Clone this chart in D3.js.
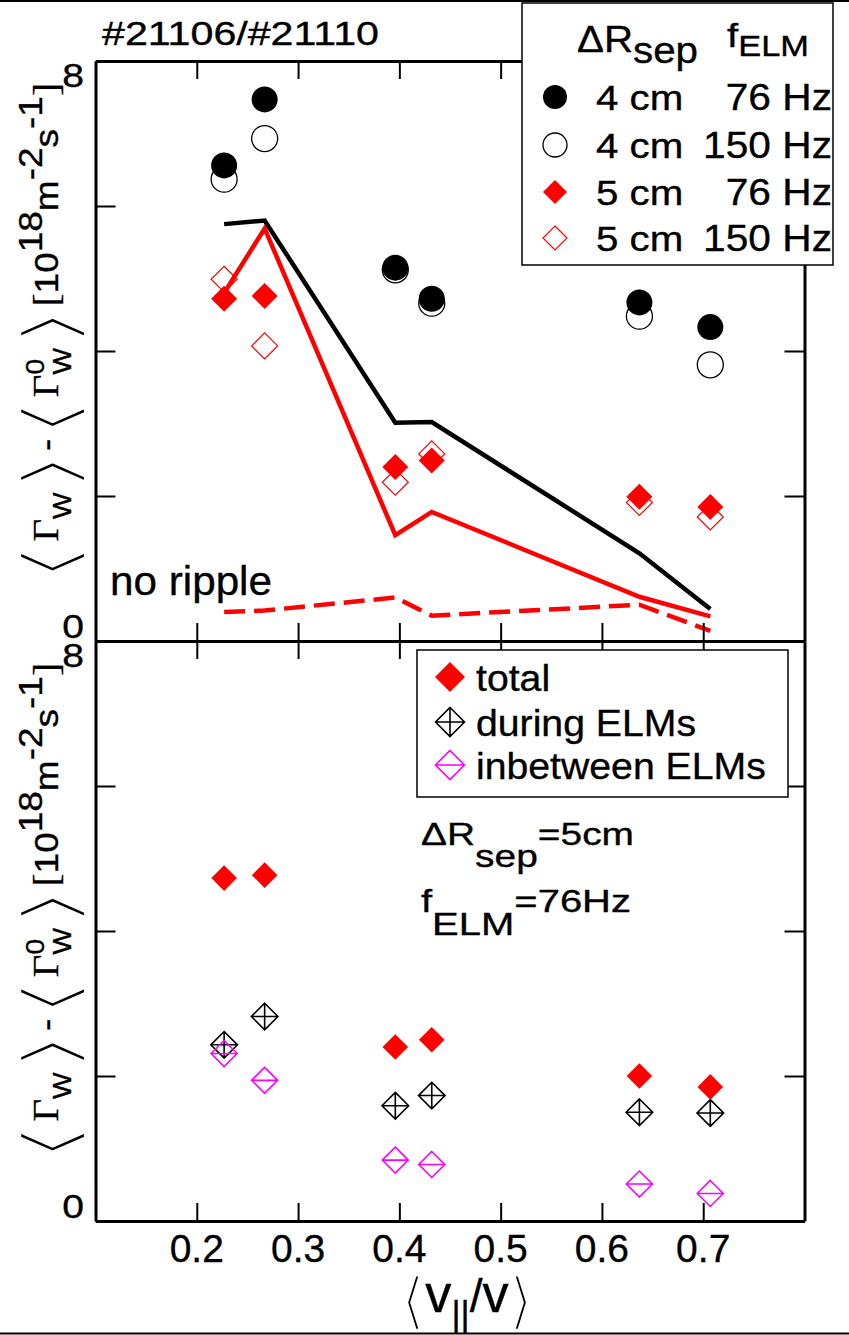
<!DOCTYPE html>
<html>
<head>
<meta charset="utf-8">
<script src="https://cdn.jsdelivr.net/npm/d3@7"></script>
<style>
  html, body { margin: 0; padding: 0; background: #fff; }
  svg { display: block; }
</style>
</head>
<body>
<svg id="fig" width="849" height="1335"></svg>
<script>
// abscissa: <v_par / v>
const vPar = [0.227, 0.267, 0.396, 0.432, 0.637, 0.707];

// upper panel: measured <Gamma_W> - <Gamma_W^0>  [1e18 m^-2 s^-1]
const dR4cm76Hz  = [6.56, 7.47, 5.15, 4.72, 4.67, 4.33];
const dR4cm150Hz = [6.37, 6.93, 5.12, 4.66, 4.48, 3.81];
const dR5cm76Hz  = [4.72, 4.76, 2.40, 2.49, 1.99, 1.85];
const dR5cm150Hz = [4.99, 4.07, 2.19, 2.58, 1.91, 1.71];

// upper panel: modelled curves
const model4cm      = [5.75, 5.80, 3.01, 3.02, 1.21, 0.44];
const model5cm      = [4.80, 5.69, 1.46, 1.78, 0.61, 0.34];
const modelNoRipple = [0.40, 0.42, 0.60, 0.35, 0.50, 0.14];

// lower panel: dR_sep = 5 cm, f_ELM = 76 Hz, split by ELM phase
const totalFlux   = [4.73, 4.77, 2.40, 2.50, 2.00, 1.85];
const duringELMs  = [2.43, 2.82, 1.59, 1.73, 1.50, 1.49];
const betweenELMs = [2.31, 1.94, 0.84, 0.78, 0.51, 0.38];

// ticks and labels
const xTicks = [0.2, 0.3, 0.4, 0.5, 0.6, 0.7];
const yTicks = [0, 2, 4, 6, 8];
const yTickLabels = [0, 8];
const sepLabels = ["4 cm", "4 cm", "5 cm", "5 cm"];
const elmLabels = ["76 Hz", "150 Hz", "76 Hz", "150 Hz"];
const phaseLabels = ["total", "during ELMs", "inbetween ELMs"];

const FONT = "'Liberation Sans', Arial, Helvetica, sans-serif";
const SERIF = "'Liberation Serif', 'Times New Roman', serif";
const BRK = "'DejaVu Sans', sans-serif";
const RED = "#ff0000", MAG = "#ff00ff";

const svg = d3.select("#fig");

const x = d3.scaleLinear([0.1, 0.8], [95.5, 804.5]);
const yTop = d3.scaleLinear([0, 8], [641, 61]);
const yBot = d3.scaleLinear([0, 8], [1221, 641]);

// A label built from runs; each run has its own font, size, baseline offset
// and horizontal stretch. "stack" puts a run over the previous one,
// "thin" trims the glyph outline with a white edge.
function segText(parent, segs, o) {
  const g = parent.append("g");
  let pos = 0, prevStart = 0;
  segs.forEach(s => {
    const sx = s.sx || 1;
    const t = g.append("text")
      .attr("font-family", s.family || o.family || FONT)
      .attr("font-size", s.size || o.size)
      .attr("fill", o.fill || "#000")
      .text(s.t);
    if (s.thin) t.attr("stroke", "#fff").attr("stroke-width", s.thin).attr("stroke-linejoin", "round");
    else t.attr("stroke", o.fill || "#000").attr("stroke-width", 0.35);
    const w = t.node().getComputedTextLength() * sx;
    const start = (s.stack ? prevStart : pos) + (s.dx || 0);
    t.attr("transform", `translate(${start},${s.base || 0}) scale(${sx},1)`);
    prevStart = start;
    pos = s.stack ? Math.max(pos, start + w) : start + w;
  });
  const total = pos;
  const sc = o.width ? o.width / total : (o.sx || 1);
  const k = o.anchor === "middle" ? 0.5 : o.anchor === "end" ? 1 : 0;
  g.attr("transform",
    `translate(${o.x},${o.y}) rotate(${o.rotate || 0}) scale(${sc},1) translate(${-total * k},0)`);
  return g;
}

const diamond = r => `M0,${-r}L${r},0L0,${r}L${-r},0Z`;
const crossDiamond = r => diamond(r) + `M0,${-r}L0,${r}M${-r},0L${r},0`;
const barDiamond = r => diamond(r) + `M${-r},0L${r},0`;

// page frame lines
svg.append("line").attr("x1", 0).attr("x2", 849).attr("y1", 1).attr("y2", 1)
  .attr("stroke", "#000").attr("stroke-width", 2);
svg.append("line").attr("x1", 0).attr("x2", 849).attr("y1", 1333.5).attr("y2", 1333.5)
  .attr("stroke", "#000").attr("stroke-width", 2);

function frame(y) {
  const g = svg.append("g");
  const [y0, y1] = [y.range()[0], y.range()[1]];
  const noLab = () => "";
  const mk = (axis, tf) => {
    const a = g.append("g").attr("transform", tf).call(axis);
    a.select(".domain").attr("stroke-width", 3);
    a.selectAll(".tick line").attr("stroke-width", 2);
    a.selectAll(".tick text").remove();
    return a;
  };
  mk(d3.axisBottom(x).tickValues(xTicks).tickSize(18).tickSizeOuter(0).tickFormat(noLab), `translate(0,${y1})`);
  mk(d3.axisTop(x).tickValues(xTicks).tickSize(18).tickSizeOuter(0).tickFormat(noLab), `translate(0,${y0})`);
  mk(d3.axisRight(y).tickValues(yTicks).tickSize(20).tickSizeOuter(0).tickFormat(noLab), `translate(${x.range()[0]},0)`);
  mk(d3.axisLeft(y).tickValues(yTicks).tickSize(20).tickSizeOuter(0).tickFormat(noLab), `translate(${x.range()[1]},0)`);
  // end labels only
  yTickLabels.forEach(v => {
    segText(g, [{ t: String(v) }], {
      x: 84, y: v === 0 ? y(v) - 3 : y(v) + 26, size: 34, sx: 1.15, anchor: "end"
    });
  });
  return g;
}

function yLabel(cy) {
  const br = { family: BRK, size: 75, sx: 1.3, base: 18, thin: 4 };
  const segs = [
    { t: "\u27E8", ...br },
    { t: "\u0393", family: SERIF, size: 36 },
    { t: "W", size: 26, base: 13 },
    { t: "\u27E9", ...br },
    { t: " - " },
    { t: "\u27E8", ...br },
    { t: "\u0393", family: SERIF, size: 36 },
    { t: "W", size: 26, base: 13 },
    { t: "0", size: 26, base: -14, stack: true },
    { t: "\u27E9", ...br },
    { t: " [", family: SERIF, size: 36 },
    { t: "10" },
    { t: "18", base: -16 },
    { t: "m" },
    { t: "-2", base: -16 },
    { t: "s" },
    { t: "-1", base: -16 },
    { t: "]", family: SERIF, size: 36 }
  ];
  segText(svg, segs, { x: 58, y: cy, size: 34, width: 500, anchor: "middle", rotate: -90 });
}

// ---------- upper panel ----------
const upper = svg.append("g");
const lineTop = vals => d3.line().x((d, i) => x(vPar[i])).y(d => yTop(d))(vals);

upper.append("path").attr("d", lineTop(model4cm)).attr("fill", "none")
  .attr("stroke", "#000").attr("stroke-width", 4.5);
upper.append("path").attr("d", lineTop(model5cm)).attr("fill", "none")
  .attr("stroke", RED).attr("stroke-width", 4.5);
upper.append("path").attr("d", lineTop(modelNoRipple)).attr("fill", "none")
  .attr("stroke", RED).attr("stroke-width", 4.5).attr("stroke-dasharray", "21,9");

upper.selectAll(".c150").data(dR4cm150Hz).join("circle")
  .attr("cx", (d, i) => x(vPar[i])).attr("cy", d => yTop(d)).attr("r", 13)
  .attr("fill", "none").attr("stroke", "#000").attr("stroke-width", 1.3);
upper.selectAll(".c76").data(dR4cm76Hz).join("circle")
  .attr("cx", (d, i) => x(vPar[i])).attr("cy", d => yTop(d)).attr("r", 13)
  .attr("fill", "#000");
upper.selectAll(".d150").data(dR5cm150Hz).join("path")
  .attr("transform", (d, i) => `translate(${x(vPar[i])},${yTop(d)})`)
  .attr("d", diamond(13)).attr("fill", "none").attr("stroke", RED).attr("stroke-width", 1.2);
upper.selectAll(".d76").data(dR5cm76Hz).join("path")
  .attr("transform", (d, i) => `translate(${x(vPar[i])},${yTop(d)})`)
  .attr("d", diamond(13)).attr("fill", RED);

// ---------- lower panel ----------
const lower = svg.append("g");
lower.selectAll(".dur").data(duringELMs).join("path")
  .attr("transform", (d, i) => `translate(${x(vPar[i])},${yBot(d)})`)
  .attr("d", crossDiamond(13.3)).attr("fill", "none").attr("stroke", "#000").attr("stroke-width", 1.6);
lower.selectAll(".btw").data(betweenELMs).join("path")
  .attr("transform", (d, i) => `translate(${x(vPar[i])},${yBot(d)})`)
  .attr("d", barDiamond(13)).attr("fill", "none").attr("stroke", MAG).attr("stroke-width", 1.6);
lower.selectAll(".tot").data(totalFlux).join("path")
  .attr("transform", (d, i) => `translate(${x(vPar[i])},${yBot(d)})`)
  .attr("d", diamond(12.8)).attr("fill", RED);

// axes for both panels
frame(yTop);
frame(yBot);

// x tick labels
xTicks.forEach(v => {
  segText(svg, [{ t: String(v) }], { x: x(v), y: 1262, size: 39, anchor: "middle" });
});

// x title <v_par / v>
segText(svg, [
  { t: "\u27E8", family: BRK, size: 62, base: 9.5, thin: 3 },
  { t: "v", size: 52 },
  { t: "||", size: 35, base: 14 },
  { t: "/", size: 46 },
  { t: "v", size: 52 },
  { t: "\u27E9", family: BRK, size: 62, base: 9.5, thin: 3 }
], { x: 401, y: 1312, size: 52, width: 132 });

// y titles
yLabel(333);
yLabel(913);

// shot numbers
segText(svg, [{ t: "#21106/#21110" }], { x: 102, y: 45, size: 34, width: 277 });

// no-ripple label
segText(svg, [{ t: "no ripple" }], { x: 110, y: 595, size: 40, width: 162 });

// upper legend
const lg = svg.append("g");
lg.append("rect").attr("x", 522).attr("y", 3).attr("width", 311).attr("height", 262)
  .attr("fill", "#fff").attr("stroke", "#000").attr("stroke-width", 1.5);
segText(lg, [{ t: "\u0394R" }, { t: "sep", base: 11 }], { x: 577, y: 52, size: 37, width: 121 });
segText(lg, [{ t: "f", size: 34 }, { t: "ELM", size: 29, base: 9 }], { x: 727, y: 47, size: 29, width: 82 });
const rowY = [97, 145, 192, 238];
lg.append("circle").attr("cx", 555).attr("cy", rowY[0]).attr("r", 12).attr("fill", "#000");
lg.append("circle").attr("cx", 555).attr("cy", rowY[1]).attr("r", 12)
  .attr("fill", "none").attr("stroke", "#000").attr("stroke-width", 1.3);
lg.append("path").attr("transform", `translate(555,${rowY[2]})`).attr("d", diamond(12)).attr("fill", RED);
lg.append("path").attr("transform", `translate(555,${rowY[3]})`).attr("d", diamond(12))
  .attr("fill", "none").attr("stroke", RED).attr("stroke-width", 1.2);
sepLabels.forEach((s, i) => {
  segText(lg, [{ t: s }], { x: 596, y: rowY[i] + 13, size: 36, sx: 1.12 });
  segText(lg, [{ t: elmLabels[i] }], { x: 832, y: rowY[i] + 13, size: 36, sx: 1.13, anchor: "end" });
});

// lower legend
const lb = svg.append("g");
lb.append("rect").attr("x", 417).attr("y", 650).attr("width", 371).attr("height", 147)
  .attr("fill", "#fff").attr("stroke", "#000").attr("stroke-width", 1.5);
const rowB = [677, 722, 765];
lb.append("path").attr("transform", `translate(450,${rowB[0]})`).attr("d", diamond(15)).attr("fill", RED);
lb.append("path").attr("transform", `translate(450,${rowB[1]})`).attr("d", crossDiamond(14.5))
  .attr("fill", "none").attr("stroke", "#000").attr("stroke-width", 1.6);
lb.append("path").attr("transform", `translate(450,${rowB[2]})`).attr("d", barDiamond(14.5))
  .attr("fill", "none").attr("stroke", MAG).attr("stroke-width", 1.6);
phaseLabels.forEach((s, i) => {
  segText(lb, [{ t: s }], { x: 476, y: rowB[i] + 14, size: 37, sx: 1.06 });
});

// lower panel annotation
segText(svg, [{ t: "\u0394R" }, { t: "sep", base: 22 }, { t: "=5cm" }],
  { x: 421, y: 845, size: 32, width: 213 });
segText(svg, [{ t: "f" }, { t: "ELM", base: 23 }, { t: "=76Hz" }],
  { x: 421, y: 912, size: 32, width: 210 });
</script>
</body>
</html>
